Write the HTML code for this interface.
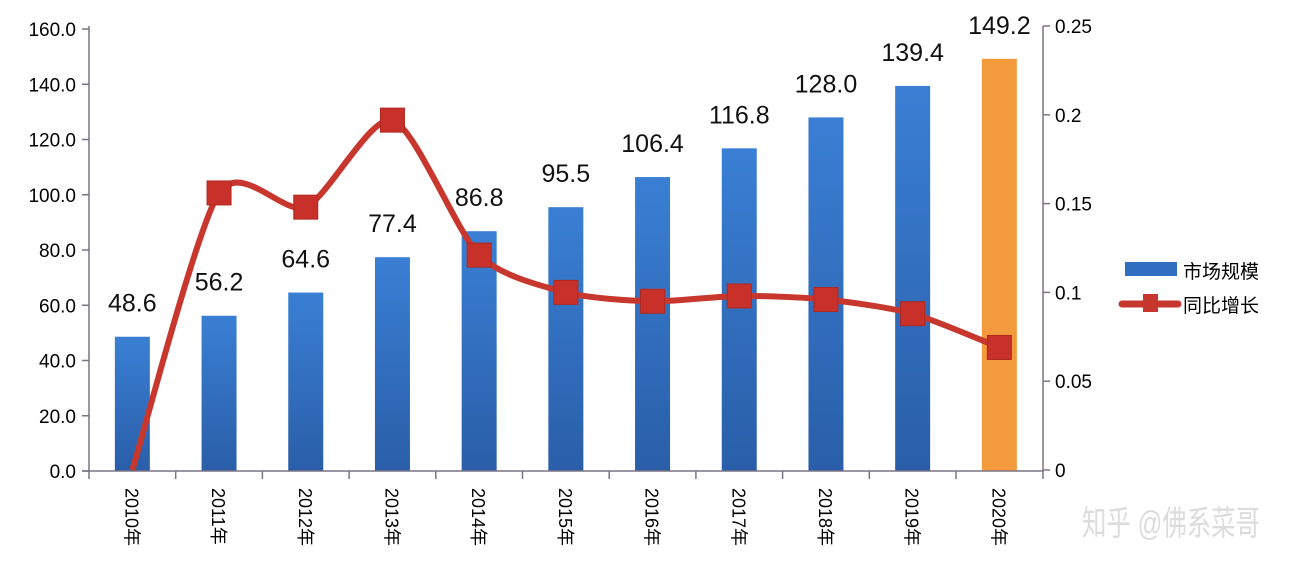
<!DOCTYPE html>
<html><head><meta charset="utf-8"><style>
body{margin:0;background:#fff;}
svg{display:block;font-family:"Liberation Sans","Noto Sans CJK SC",sans-serif;}
</style></head><body>
<svg width="1294" height="576" viewBox="0 0 1294 576" xmlns="http://www.w3.org/2000/svg">
<defs>
<linearGradient id="bl" x1="0" y1="0" x2="0" y2="1"><stop offset="0" stop-color="#3a7fd4"/><stop offset="1" stop-color="#2a5ea8"/></linearGradient>
</defs>
<rect width="1294" height="576" fill="#fff"/>
<g id="bars"></g>
<g stroke="#7b7484" stroke-width="1.5" fill="none">
<line x1="89" y1="26" x2="89" y2="472"/>
<line x1="1043" y1="26" x2="1043" y2="472"/>
<line x1="82" y1="471" x2="1043" y2="471"/>
</g>
<g id="ticks" stroke="#7b7484" stroke-width="1.5"></g>
<g id="lbl" font-size="19" fill="#000"></g>
<path id="ln" fill="none" stroke="#c8372d" stroke-width="6" stroke-linejoin="round"/>
<g id="mk"></g>
<g id="vl" font-size="25" fill="#111" text-anchor="middle"></g>
<rect x="1125" y="262" width="52" height="14" fill="#2f6ec0"/>
<text x="1183" y="278" font-size="19">市场规模</text>
<line x1="1122" y1="304" x2="1178" y2="304" stroke="#c8372d" stroke-width="7" stroke-linecap="round"/>
<rect x="1143" y="294" width="15" height="18" fill="#c8372d"/>
<text x="1183" y="312" font-size="19">同比增长</text>
<text x="1082" y="535" font-size="34" fill="#d6d6d6" fill-opacity="0.85" textLength="178" lengthAdjust="spacingAndGlyphs">知乎 @佛系菜哥</text>
</svg>
<script>
var ns="http://www.w3.org/2000/svg";
function el(p,t,a,txt){var e=document.createElementNS(ns,t);for(var k in a)e.setAttribute(k,a[k]);if(txt!=null)e.textContent=txt;document.getElementById(p).appendChild(e);return e;}
var v=[48.6,56.2,64.6,77.4,86.8,95.5,106.4,116.8,128.0,139.4,149.2];
var g=[0,0.156,0.148,0.197,0.121,0.1,0.095,0.098,0.096,0.088,0.069];
var w=86.7,x0=89;
for(var i=0;i<11;i++){
 var cx=x0+w/2+w*i, by=471-v[i]*2.7625;
 el("bars","rect",{x:cx-17.5,y:by,width:35,height:471-by,fill:i==10?"#f39a3c":"url(#bl)"});
 el("vl","text",{x:cx,y:by-25},v[i].toFixed(1));
 el("lbl","text",{transform:"translate("+(cx-7)+",488) rotate(90)","font-size":"18"},(i==10?"2020":String(2010+i))+"年");
 el("ticks","line",{x1:x0+w*i,y1:471,x2:x0+w*i,y2:479});
}
el("ticks","line",{x1:1043,y1:471,x2:1043,y2:479});
for(var j=0;j<=8;j++){var y=471-j*20*2.7625;el("ticks","line",{x1:82,y1:y,x2:89,y2:y});el("lbl","text",{x:76,y:y+7,"text-anchor":"end"},(j*20).toFixed(1));}
var rl=["0","0.05","0.1","0.15","0.2","0.25"];
for(var j=0;j<6;j++){var y=470-j*0.05*1776;el("ticks","line",{x1:1043,y1:y,x2:1050,y2:y});el("lbl","text",{x:1055,y:y+7},rl[j]);}
var P=g.map(function(q,i){return [x0+w/2+w*i,470-q*1776];});
var d="M"+P[0][0]+","+P[0][1];
for(var i=0;i<P.length-1;i++){
 var p0=P[Math.max(0,i-1)],p1=P[i],p2=P[i+1],p3=P[Math.min(P.length-1,i+2)],k=1/8;
 d+=" C"+(p1[0]+(p2[0]-p0[0])*k)+","+(p1[1]+(p2[1]-p0[1])*k)+" "+(p2[0]-(p3[0]-p1[0])*k)+","+(p2[1]-(p3[1]-p1[1])*k)+" "+p2[0]+","+p2[1];
}
document.getElementById("ln").setAttribute("d",d);
for(var i=1;i<P.length;i++)el("mk","rect",{x:P[i][0]-12,y:P[i][1]-12,width:24,height:24,fill:"#c8302a",stroke:"#b02820","stroke-width":1});
</script>
</body></html>
